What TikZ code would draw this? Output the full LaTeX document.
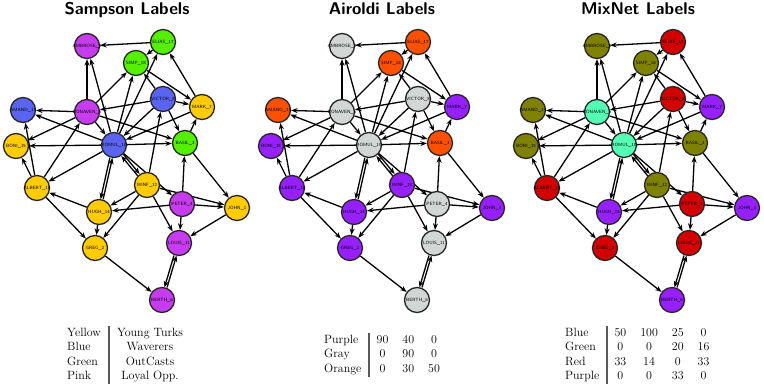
\documentclass[tikz,border=0pt]{standalone}
\usepackage{colortbl}
\usetikzlibrary{arrows.meta,backgrounds}
\definecolor{syellow}{HTML}{FFCC00}
\definecolor{sblue}{HTML}{5A64F0}
\definecolor{sgreen}{HTML}{55F000}
\definecolor{spink}{HTML}{C83CF0}
\definecolor{apurple}{HTML}{9620FF}
\definecolor{agray}{HTML}{D2D7D6}
\definecolor{aorange}{HTML}{FF5000}
\definecolor{molive}{HTML}{7F8200}
\definecolor{maqua}{HTML}{55FFB4}
\definecolor{mred}{HTML}{D20000}
\tikzset{
  mnode/.style={circle, draw=black!85, line width=1.3pt, minimum size=25pt, inner sep=0pt,
    label={[inner sep=0pt, font=\fontsize{4.6}{6}\selectfont\sffamily]center:#1}},
  edge/.style={draw=black, line width=1.3pt, -{Stealth[length=6.5pt,width=5pt]}},
  ptitle/.style={font=\fontsize{17}{20}\selectfont\sffamily\bfseries, inner sep=0pt},
  tbl/.style={inner sep=0pt, anchor=west, font=\fontsize{12}{14.5}\selectfont}
}
\newcommand\drawpanel[2]{%
\begin{scope}[xshift=#2pt]
\node[mnode={AMBROSE\_9},fill=cAMB] (#1amb) at (87,46) {};
\node[mnode={ELIAS\_17},fill=cELI] (#1eli) at (163,42) {};
\node[mnode={SIMP\_18},fill=cSIMP] (#1simp) at (136,63) {};
\node[mnode={VICTOR\_8},fill=cVIC] (#1vic) at (163,99) {};
\node[mnode={MARK\_7},fill=cMARK] (#1mark) at (202,107) {};
\node[mnode={AMAND\_13},fill=cAMAND] (#1amand) at (23,110) {};
\node[mnode={BONAVEN\_5},fill=cBONAV] (#1bonav) at (87,112) {};
\node[mnode={BONI\_15},fill=cBONI] (#1boni) at (16,146) {};
\node[mnode={ROMUL\_10},fill=cROM] (#1rom) at (114,145) {};
\node[mnode={BASIL\_3},fill=cBAS] (#1bas) at (185,143) {};
\node[mnode={ALBERT\_16},fill=cALB] (#1alb) at (37,188) {};
\node[mnode={WINF\_12},fill=cWINF] (#1winf) at (147,185) {};
\node[mnode={HUGH\_14},fill=cHUGH] (#1hugh) at (99,212) {};
\node[mnode={PETER\_4},fill=cPET] (#1pet) at (182,204) {};
\node[mnode={JOHN\_1},fill=cJOHN] (#1john) at (237,208) {};
\node[mnode={GREG\_2},fill=cGREG] (#1greg) at (95,248) {};
\node[mnode={LOUIS\_11},fill=cLOUIS] (#1louis) at (179,243) {};
\node[mnode={BERTH\_6},fill=cBERTH] (#1berth) at (162,300) {};
\begin{scope}[on background layer]
\draw[edge] (#1eli) -- (#1amb);
\draw[edge] (#1bonav) -- (#1amb);
\draw[edge] (#1rom) -- (#1amb);
\draw[edge] (#1eli) -- (#1simp);
\draw[edge] (#1rom) -- (#1eli);
\draw[edge] (#1mark) -- (#1eli);
\draw[edge] (#1simp) -- (#1mark);
\draw[edge] (#1vic) -- (#1simp);
\draw[edge] (#1vic) -- (#1bonav);
\draw[edge] (#1vic) -- (#1mark);
\draw[edge] (#1bonav) -- (#1amand);
\draw[edge] (#1bonav) -- (#1simp);
\draw[edge] (#1rom) -- (#1simp);
\draw[edge] (#1rom) -- (#1amand);
\draw[edge] (#1bonav) -- (#1boni);
\draw[edge] (#1bonav) -- (#1rom);
\draw[edge] (#1bonav) -- (#1bas);
\draw[edge] (#1winf) -- (#1vic);
\draw[edge] (#1mark) -- (#1rom);
\draw[edge] (#1vic) -- (#1rom);
\draw[edge] (#1vic) -- (#1bas);
\draw[edge] (#1bas) -- (#1mark);
\draw[edge] (#1rom) -- (#1boni);
\draw[edge] (#1rom) -- (#1bas);
\draw[edge] (#1alb) -- (#1amand);
\draw[edge] (#1alb) -- (#1boni);
\draw[edge] (#1alb) -- (#1bonav);
\draw[edge] (#1rom) -- (#1alb);
\draw[edge,transform canvas={xshift=1.3pt}] (#1hugh) -- (#1rom);
\draw[edge,transform canvas={xshift=-1.3pt}] (#1rom) -- (#1hugh);
\draw[edge] (#1hugh) -- (#1alb);
\draw[edge] (#1hugh) -- (#1greg);
\draw[edge] (#1alb) -- (#1greg);
\draw[edge] (#1winf) -- (#1greg);
\draw[edge] (#1winf) -- (#1hugh);
\draw[edge] (#1pet) -- (#1hugh);
\draw[edge] (#1winf) -- (#1louis);
\draw[edge] (#1pet) -- (#1louis);
\draw[edge] (#1john) -- (#1louis);
\draw[edge] (#1greg) -- (#1berth);
\draw[edge,transform canvas={xshift=1.3pt}] (#1berth) -- (#1louis);
\draw[edge,transform canvas={xshift=-1.3pt}] (#1louis) -- (#1berth);
\draw[edge] (#1winf) -- (#1john);
\draw[edge] (#1pet) -- (#1john);
\draw[edge] (#1pet) -- (#1bas);
\draw[edge] (#1bas) -- (#1john);
\draw[edge,transform canvas={xshift=1pt,yshift=0.85pt}] (#1rom) -- (#1winf);
\draw[edge,transform canvas={xshift=-1pt,yshift=-0.85pt}] (#1winf) -- (#1rom);
\draw[edge] (#1rom) -- (#1pet);
\end{scope}
\end{scope}}
\newcommand\setpanelcolors[9]{%
\colorlet{cAMB}{#1}\colorlet{cELI}{#2}\colorlet{cSIMP}{#3}\colorlet{cVIC}{#4}%
\colorlet{cMARK}{#5}\colorlet{cAMAND}{#6}\colorlet{cBONAV}{#7}\colorlet{cBONI}{#8}\colorlet{cROM}{#9}}
\newcommand\setpanelcolorsb[9]{%
\colorlet{cBAS}{#1}\colorlet{cALB}{#2}\colorlet{cWINF}{#3}\colorlet{cHUGH}{#4}%
\colorlet{cPET}{#5}\colorlet{cJOHN}{#6}\colorlet{cGREG}{#7}\colorlet{cLOUIS}{#8}\colorlet{cBERTH}{#9}}
\setlength\tabcolsep{7pt}
\setlength\arrayrulewidth{1.2pt}
\arrayrulecolor{black!65}
\begin{document}
\begin{tikzpicture}[x=1pt,y=-1pt]
\useasboundingbox (0,0) rectangle (764,388);
% Sampson
\setpanelcolors{spink}{sgreen}{sgreen}{sblue}{syellow}{sblue}{spink}{syellow}{sblue}
\setpanelcolorsb{sgreen}{syellow}{syellow}{syellow}{spink}{syellow}{syellow}{spink}{spink}
\drawpanel{s}{0}
% Airoldi
\setpanelcolors{agray}{aorange}{aorange}{agray}{apurple}{aorange}{agray}{apurple}{agray}
\setpanelcolorsb{aorange}{apurple}{apurple}{apurple}{agray}{apurple}{apurple}{agray}{agray}
\drawpanel{a}{255}
% MixNet
\setpanelcolors{molive}{mred}{molive}{mred}{apurple}{molive}{maqua}{molive}{maqua}
\setpanelcolorsb{molive}{mred}{molive}{apurple}{mred}{apurple}{mred}{mred}{apurple}
\drawpanel{m}{510}
% titles
\node[ptitle,anchor=base] (t1) at (127,15) {Sampson Labels};
\node[ptitle,anchor=base] (t2) at (382,15) {Airoldi Labels};
\node[ptitle,anchor=base] (t3) at (638,15) {MixNet Labels};
% tables
\node[tbl] (tab1) at (67,355) {\setlength\tabcolsep{7.5pt}\begin{tabular}{@{}l|c@{}}
Yellow & Young Turks\\ Blue & Waverers\\ Green & OutCasts\\ Pink & Loyal Opp.\end{tabular}};
\node[tbl] (tab2) at (324,355) {\begin{tabular}{@{}l|ccc@{}}
Purple & 90 & 40 & 0\\ Gray & 0 & 90 & 0\\ Orange & 0 & 30 & 50\end{tabular}};
\node[tbl] (tab3) at (565,355) {\begin{tabular}{@{}l|cccc@{}}
Blue & 50 & 100 & 25 & 0\\ Green & 0 & 0 & 20 & 16\\ Red & 33 & 14 & 0 & 33\\ Purple & 0 & 0 & 33 & 0\end{tabular}};
\end{tikzpicture}
\end{document}
